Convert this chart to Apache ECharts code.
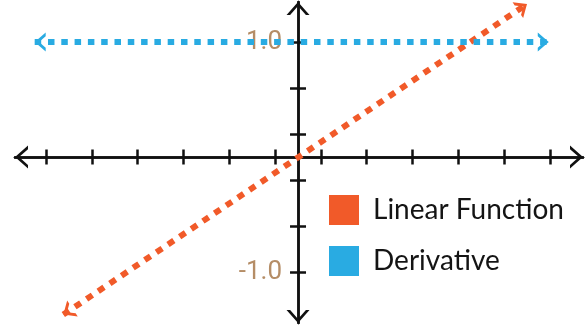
<!DOCTYPE html>
<html>
<head>
<meta charset="utf-8">
<script src="https://cdn.jsdelivr.net/npm/echarts@6/dist/echarts.min.js"></script>
<style>
  html, body { margin: 0; padding: 0; background: #ffffff; }
  #chart { width: 587px; height: 327px; }
</style>
</head>
<body>
<div id="chart"></div>
<script>
// Series names and endpoints of each drawn line
const seriesNames = ['Linear Function', 'Derivative'];
const linearX = [-2.05, 2.0];
const linearY = [-1.37, 1.33];
const derivX = [-2.3, 2.19];
const derivY = [1.0, 1.0];

// Tick positions and labelled values
const xTicks = [-2.2, -1.8, -1.4, -1.0, -0.6, -0.2, 0.2, 0.6, 1.0, 1.4, 1.8, 2.2];
const yTicks = [-1.0, -0.6, -0.2, 0.2, 0.6, 1.0];
const yLabels = [-1.0, 1.0];

// Axis extents
const xMin = -2.472, xMax = 2.489;
const yMin = -1.443, yMax = 1.348;
const gridLeft = 15, gridRight = 4, gridTop = 2, gridBottom = 4;
const chartWidth = 587;

// Open chevron pointing up, with its tip at the centre of the path's bounding box
// so it sits exactly on the end of the line it decorates.
function chevron(w, d, t) {
  const h = w / 2;
  const innerTip = d + (2 * d * t) / w;
  return 'path://M' + h + ',0L' + h + ',0' +
    'M0,' + (2 * d) + 'L' + h + ',' + d + 'L' + w + ',' + (2 * d) +
    'L' + (w - t) + ',' + (2 * d) + 'L' + h + ',' + innerTip +
    'L' + t + ',' + (2 * d) + 'Z';
}

const ink = '#111111';
const colors = ['#f15a29', '#29abe2'];
const axisArrow = chevron(23, 13, 3.6);
const lineArrow = chevron(19, 11, 3.8);

// Horizontal distance from the grid's left edge to x = 0
const zeroOffset = (0 - xMin) / (xMax - xMin) * (chartWidth - gridLeft - gridRight);

function xAxisDef(position, withArrows) {
  return {
    type: 'value',
    position: position,
    min: xMin,
    max: xMax,
    axisLine: {
      show: true,
      onZero: true,
      symbol: withArrows ? [axisArrow, axisArrow] : 'none',
      symbolSize: [23, 26],
      lineStyle: { color: ink, width: 2.5 }
    },
    axisTick: { show: true, length: 7.5, customValues: xTicks, lineStyle: { color: ink, width: 2.5 } },
    axisLabel: { show: false },
    splitLine: { show: false }
  };
}

const yAxes = [
  // Left-hand ticks and the value labels, carried across to x = 0
  {
    type: 'value',
    position: 'left',
    offset: -zeroOffset,
    min: yMin,
    max: yMax,
    axisLine: { show: true, onZero: false, lineStyle: { color: ink, width: 2.5 } },
    axisTick: { show: true, length: 8, customValues: yTicks, lineStyle: { color: ink, width: 2.5 } },
    axisLabel: {
      show: true,
      customValues: yLabels,
      formatter: function (v) { return Number(v).toFixed(1); },
      color: '#b58d66',
      fontFamily: 'Roboto',
      fontSize: 26,
      margin: 16
    },
    splitLine: { show: false }
  },
  // Right-hand ticks and the arrowed axis line at x = 0
  {
    type: 'value',
    position: 'right',
    min: yMin,
    max: yMax,
    axisLine: {
      show: true,
      onZero: true,
      symbol: [axisArrow, axisArrow],
      symbolSize: [23, 26],
      lineStyle: { color: ink, width: 2.5 }
    },
    axisTick: { show: true, length: 8, customValues: yTicks, lineStyle: { color: ink, width: 2.5 } },
    axisLabel: { show: false },
    splitLine: { show: false }
  }
];

function lineSeries(name, xs, ys, color, dash) {
  return {
    name: name,
    type: 'line',
    data: xs.map(function (x, i) { return [x, ys[i]]; }),
    symbol: 'none',
    showSymbol: false,
    silent: true,
    color: color,
    itemStyle: { color: color, borderWidth: 0 },
    lineStyle: { color: color, width: 6, type: dash },
    animation: false,
    markLine: {
      silent: true,
      animation: false,
      symbol: [lineArrow, lineArrow],
      symbolSize: [19, 22],
      label: { show: false },
      lineStyle: { color: color, width: 0, type: 'solid' },
      data: [[
        { coord: [xs[0], ys[0]] },
        { coord: [xs[xs.length - 1], ys[ys.length - 1]] }
      ]]
    }
  };
}

const chart = echarts.init(document.getElementById('chart'), null, { renderer: 'canvas' });
chart.setOption({
  animation: false,
  backgroundColor: '#ffffff',
  grid: { left: gridLeft, right: gridRight, top: gridTop, bottom: gridBottom, containLabel: false, outerBoundsMode: 'none' },
  xAxis: [xAxisDef('bottom', true), xAxisDef('top', false)],
  yAxis: yAxes,
  legend: {
    orient: 'vertical',
    left: 329,
    top: 195,
    padding: 0,
    itemWidth: 30,
    itemHeight: 30,
    itemGap: 21,
    icon: 'rect',
    selectedMode: false,
    itemStyle: { borderWidth: 0 },
    textStyle: { fontFamily: 'Lato', fontSize: 28, color: '#141414', padding: [0, 0, 0, 9] },
    data: seriesNames
  },
  series: [
    lineSeries(seriesNames[0], linearX, linearY, colors[0], [7, 7]),
    lineSeries(seriesNames[1], derivX, derivY, colors[1], [6.5, 6.8])
  ]
});
</script>
</body>
</html>
